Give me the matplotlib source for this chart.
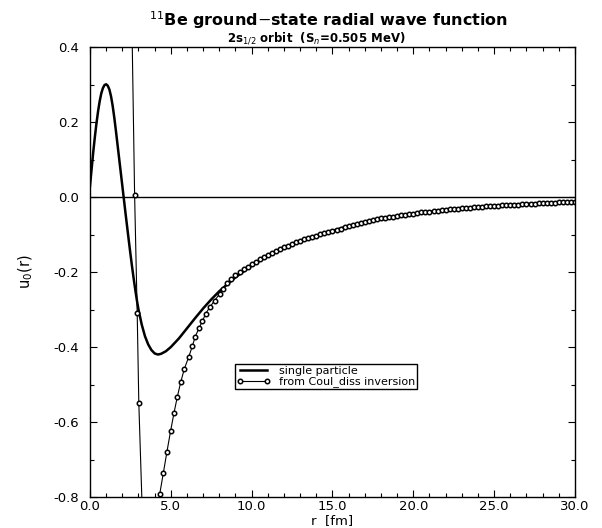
import matplotlib
matplotlib.use("Agg")
import matplotlib.pyplot as plt
from matplotlib.ticker import MultipleLocator, FormatStrFormatter

# single particle wave function
r_sp = [0.0, 0.1, 0.2, 0.3, 0.4, 0.5, 0.6, 0.7, 0.8, 0.9, 1.0, 1.1, 1.2, 1.3,
        1.4, 1.5, 1.6, 1.7, 1.8, 1.9, 2.0, 2.1, 2.2, 2.3, 2.4, 2.5, 2.6, 2.7,
        2.8, 2.9, 3.0, 3.2, 3.4, 3.6, 3.8, 4.0, 4.2, 4.4, 4.7, 5.0, 5.5, 6.0,
        6.5, 7.0, 7.5, 8.0, 9.0, 10.0, 11.0, 12.0, 13.0, 14.0, 15.0, 16.0,
        17.0, 18.0, 19.0, 20.0, 22.0, 24.0, 26.0, 28.0, 30.0]
u_sp = [0.03, 0.075, 0.12, 0.16, 0.197, 0.229, 0.256, 0.277, 0.291, 0.299,
        0.301, 0.297, 0.287, 0.269, 0.244, 0.213, 0.178, 0.141, 0.104, 0.067,
        0.030, -0.007, -0.044, -0.080, -0.116, -0.151, -0.185, -0.217, -0.247,
        -0.275, -0.300, -0.340, -0.371, -0.393, -0.408, -0.417, -0.420, -0.418,
        -0.411, -0.400, -0.377, -0.350, -0.323, -0.297, -0.273, -0.251, -0.214,
        -0.183, -0.157, -0.136, -0.118, -0.103, -0.090, -0.077, -0.066, -0.057,
        -0.050, -0.044, -0.034, -0.026, -0.021, -0.016, -0.013]

# from Coulomb dissociation inversion
r_cd = [2.55, 2.76, 2.92, 3.02, 3.5, 4.31, 4.54, 4.76, 4.99, 5.19, 5.40, 5.61,
        5.83, 6.10, 6.33, 6.51, 6.74, 6.95, 7.16, 7.40, 7.71, 8.02, 8.22,
        8.5, 8.75, 9.0, 9.25, 9.5, 9.75, 10.0, 10.25, 10.5, 10.75, 11.0, 11.25,
        11.5, 11.75, 12.0, 12.25, 12.5, 12.75, 13.0, 13.25, 13.5, 13.75, 14.0,
        14.25, 14.5, 14.75, 15.0, 15.25, 15.5, 15.75, 16.0, 16.25, 16.5, 16.75,
        17.0, 17.25, 17.5, 17.75, 18.0, 18.25, 18.5, 18.75, 19.0, 19.25, 19.5,
        19.75, 20.0, 20.25, 20.5, 20.75, 21.0, 21.25, 21.5, 21.75, 22.0, 22.25,
        22.5, 22.75, 23.0, 23.25, 23.5, 23.75, 24.0, 24.25, 24.5, 24.75, 25.0,
        25.25, 25.5, 25.75, 26.0, 26.25, 26.5, 26.75, 27.0, 27.25, 27.5, 27.75,
        28.0, 28.25, 28.5, 28.75, 29.0, 29.25, 29.5, 29.75, 30.0]
u_cd = [0.58, 0.005, -0.31, -0.55, -1.2, -0.793, -0.735, -0.679, -0.623, -0.577,
        -0.533, -0.494, -0.459, -0.427, -0.398, -0.372, -0.350, -0.331, -0.311,
        -0.294, -0.276, -0.258, -0.245,
        -0.228, -0.218, -0.209, -0.201, -0.193, -0.186, -0.179, -0.172, -0.166,
        -0.160, -0.154, -0.149, -0.144, -0.139, -0.134, -0.130, -0.126, -0.121,
        -0.117, -0.113, -0.110, -0.106, -0.103, -0.099, -0.096, -0.093, -0.090,
        -0.087, -0.084, -0.080, -0.077, -0.074, -0.071, -0.069, -0.066, -0.064,
        -0.061, -0.059, -0.057, -0.055, -0.053, -0.052, -0.050, -0.048, -0.047,
        -0.045, -0.044, -0.043, -0.041, -0.040, -0.039, -0.038, -0.036, -0.035,
        -0.034, -0.033, -0.032, -0.031, -0.030, -0.029, -0.028, -0.027, -0.026,
        -0.026, -0.025, -0.024, -0.024, -0.023, -0.022, -0.022, -0.021, -0.020,
        -0.020, -0.019, -0.019, -0.018, -0.018, -0.017, -0.016, -0.016, -0.015,
        -0.015, -0.014, -0.014, -0.014, -0.013, -0.013]

plt.rcParams['font.family'] = ['DejaVu Sans']

fig = plt.figure(figsize=(6.02, 5.28), dpi=100)
ax = fig.add_axes([0.1495, 0.0587, 0.8056, 0.852])

ax.axhline(0.0, color='k', lw=1.0)
ax.plot(r_sp, u_sp, color='k', lw=1.8, label='single particle')
ax.plot(r_cd, u_cd, color='k', lw=0.8, marker='o', ms=3.2, mfc='white',
        mec='k', mew=1.1, label='from Coul_diss inversion')

ax.set_xlim(0, 30)
ax.set_ylim(-0.8, 0.4)
ax.xaxis.set_major_locator(MultipleLocator(5))
ax.xaxis.set_minor_locator(MultipleLocator(1))
ax.yaxis.set_major_locator(MultipleLocator(0.2))
ax.yaxis.set_minor_locator(MultipleLocator(0.1))
ax.xaxis.set_major_formatter(FormatStrFormatter('%.1f'))
ax.yaxis.set_major_formatter(FormatStrFormatter('%.1f'))
ax.tick_params(which='both', direction='in', top=True, right=True, width=0.8)
ax.tick_params(which='major', length=5, labelsize=9.5)
ax.tick_params(which='minor', length=3)
ax.tick_params(axis='x', pad=2)
ax.tick_params(axis='y', pad=8)
for s in ax.spines.values():
    s.set_linewidth(1.0)

ax.set_xlabel('r  [fm]', fontsize=9.5, va='top')
ax.xaxis.set_label_coords(0.5, -0.037)
ax.set_ylabel('u$_0$(r)', fontsize=10.5, labelpad=13)

fig.text(0.545, 0.962, r'$^{11}$Be ground$-$state radial wave function',
         ha='center', va='center', fontsize=11.5, fontweight='bold')
fig.text(0.525, 0.928, r'2s$_{1/2}$ orbit  (S$_n$=0.505 MeV)',
         ha='center', va='center', fontsize=8.5, fontweight='bold')

leg = ax.legend(loc='lower left', bbox_to_anchor=(0.299, 0.24), fontsize=8,
                numpoints=2, handlelength=3.0, borderpad=0.15, labelspacing=0.05,
                handletextpad=0.8, fancybox=False, framealpha=1,
                edgecolor='k', borderaxespad=0)
leg.get_frame().set_linewidth(1.0)

fig.savefig('out.png', dpi=100)
